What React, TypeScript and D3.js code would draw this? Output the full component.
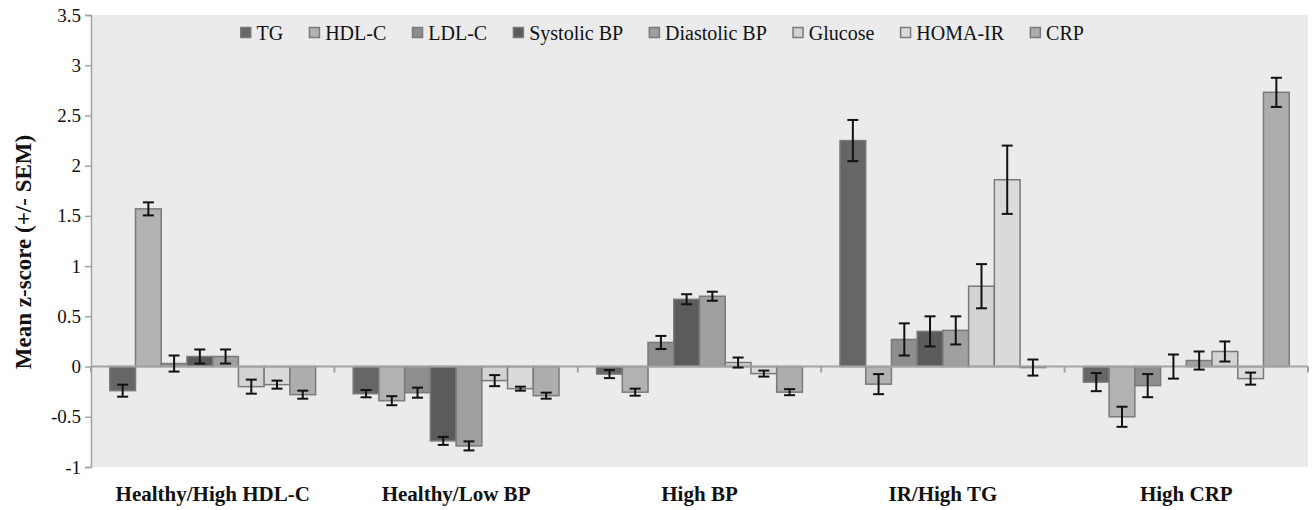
import React, { useEffect, useRef } from "react";
import * as d3 from "d3";

const groups = ["Healthy/High HDL-C", "Healthy/Low BP", "High BP", "IR/High TG", "High CRP"];
const seriesNames = ["TG", "HDL-C", "LDL-C", "Systolic BP", "Diastolic BP", "Glucose", "HOMA-IR", "CRP"];
const seriesColors = ["#666666", "#b2b2b2", "#8e8e8e", "#5b5b5b", "#a0a0a0", "#d3d3d3", "#dadada", "#adadad"];

// mean z-score per group, one array per marker
const tg = [-0.24, -0.27, -0.075, 2.25, -0.155];
const hdl = [1.57, -0.34, -0.255, -0.175, -0.5];
const ldl = [0.03, -0.26, 0.24, 0.27, -0.19];
const sbp = [0.1, -0.74, 0.67, 0.35, 0.0];
const dbp = [0.1, -0.79, 0.7, 0.36, 0.06];
const glucose = [-0.2, -0.14, 0.04, 0.8, 0.15];
const homa = [-0.18, -0.22, -0.07, 1.86, -0.12];
const crp = [-0.28, -0.29, -0.255, -0.01, 2.73];

// SEM
const tgSem = [0.06, 0.036, 0.04, 0.205, 0.09];
const hdlSem = [0.065, 0.045, 0.035, 0.1, 0.1];
const ldlSem = [0.08, 0.05, 0.065, 0.16, 0.115];
const sbpSem = [0.07, 0.04, 0.05, 0.15, 0.12];
const dbpSem = [0.07, 0.045, 0.045, 0.14, 0.09];
const glucoseSem = [0.07, 0.055, 0.05, 0.22, 0.1];
const homaSem = [0.04, 0.02, 0.03, 0.34, 0.06];
const crpSem = [0.04, 0.03, 0.03, 0.08, 0.145];

const yTicks = [-1, -0.5, 0, 0.5, 1, 1.5, 2, 2.5, 3, 3.5];

const FONT = "Liberation Serif";

export default function App() {
  const ref = useRef<SVGSVGElement>(null);

  useEffect(() => {
    const width = 1316;
    const height = 510;
    const margin = { top: 15, right: 8, bottom: 43, left: 91 };
    const innerWidth = width - margin.left - margin.right;
    const innerHeight = height - margin.top - margin.bottom;

    const values = [tg, hdl, ldl, sbp, dbp, glucose, homa, crp];
    const sems = [tgSem, hdlSem, ldlSem, sbpSem, dbpSem, glucoseSem, homaSem, crpSem];
    const data = groups.flatMap((g, gi) =>
      seriesNames.map((s, si) => ({ group: g, series: s, color: seriesColors[si], value: values[si][gi], sem: sems[si][gi] }))
    );

    const svg = d3.select(ref.current);
    svg.selectAll("*").remove();

    const chart = svg.append("g").attr("transform", `translate(${margin.left}, ${margin.top})`);

    chart.append("rect").attr("width", innerWidth).attr("height", innerHeight).attr("fill", "#ebebeb");

    const x0 = d3.scaleBand().domain(groups).range([0, innerWidth]).padding(0);
    const x1 = d3.scaleBand().domain(seriesNames).range([0, x0.bandwidth()]).paddingInner(0).paddingOuter(0.73);
    const y = d3.scaleLinear().domain([-1, 3.5]).range([innerHeight, 0]);

    // bars
    chart.selectAll(".bar").data(data).join("rect").attr("class", "bar")
      .attr("x", d => x0(d.group)! + x1(d.series)!)
      .attr("y", d => y(Math.max(0, d.value)))
      .attr("width", x1.bandwidth())
      .attr("height", d => Math.abs(y(d.value) - y(0)))
      .attr("fill", d => d.color)
      .attr("stroke", "#7a7a7a")
      .attr("stroke-width", 1.5);

    // zero axis with category ticks
    const xAxis = chart.append("g").attr("transform", `translate(0, ${y(0)})`)
      .call(d3.axisBottom(x0).tickSize(6).tickFormat(() => ""));
    xAxis.selectAll(".tick").attr("transform", d => `translate(${x0(d as string)}, 0)`);
    xAxis.append("g").attr("class", "tick").attr("transform", `translate(${innerWidth}, 0)`)
      .append("line").attr("y2", 6);
    xAxis.select(".domain").attr("d", `M0,0H${innerWidth}`);
    xAxis.selectAll("line, path").attr("stroke", "#a3a3a3").attr("stroke-width", 2);

    // error bars
    const cap = 5.5;
    const err = chart.selectAll(".err").data(data).join("g").attr("class", "err")
      .attr("transform", d => `translate(${x0(d.group)! + x1(d.series)! + x1.bandwidth() / 2}, 0)`);
    err.append("line").attr("y1", d => y(d.value - d.sem)).attr("y2", d => y(d.value + d.sem));
    err.append("line").attr("x1", -cap).attr("x2", cap).attr("y1", d => y(d.value + d.sem)).attr("y2", d => y(d.value + d.sem));
    err.append("line").attr("x1", -cap).attr("x2", cap).attr("y1", d => y(d.value - d.sem)).attr("y2", d => y(d.value - d.sem));
    err.selectAll("line").attr("stroke", "#111").attr("stroke-width", 2);

    // y axis
    const yAxis = chart.append("g")
      .call(d3.axisLeft(y).tickValues(yTicks).tickSize(6).tickPadding(4).tickFormat(d => String(d)));
    yAxis.selectAll("line, path").attr("stroke", "#a3a3a3").attr("stroke-width", 1.5);
    yAxis.selectAll("text").attr("font-family", FONT).attr("font-size", 19).attr("fill", "#111");

    svg.append("text").text("Mean z-score (+/- SEM)")
      .attr("transform", `translate(31, ${margin.top + 237}) rotate(-90)`)
      .attr("text-anchor", "middle").attr("font-family", FONT).attr("font-weight", "bold")
      .attr("font-size", 23).attr("fill", "#111");

    // category labels
    chart.selectAll(".cat").data(groups).join("text").attr("class", "cat")
      .text(d => d)
      .attr("x", d => x0(d)! + x0.bandwidth() / 2)
      .attr("y", innerHeight + 34)
      .attr("text-anchor", "middle").attr("font-family", FONT).attr("font-weight", "bold")
      .attr("font-size", 21).attr("fill", "#111");

    // legend
    const legend = chart.append("g").attr("transform", `translate(${240 - margin.left}, 18)`);
    let lx = 0;
    seriesNames.forEach((s, i) => {
      const item = legend.append("g").attr("transform", `translate(${lx}, 0)`);
      item.append("rect").attr("x", 0.75).attr("y", -5.5).attr("width", 10).attr("height", 10)
        .attr("fill", seriesColors[i]).attr("stroke", "#7a7a7a").attr("stroke-width", 1.5);
      const t = item.append("text").text(s).attr("x", 16.5).attr("y", 7)
        .attr("font-family", FONT).attr("font-size", 20).attr("fill", "#111");
      const w = (t.node() as SVGTextElement).getComputedTextLength();
      lx += 16.5 + w + 25.5;
    });
  }, []);

  return (
    <svg ref={ref} width={1316} height={510} style={{ position: "absolute", left: 0, top: 0, background: "#fff" }} />
  );
}
